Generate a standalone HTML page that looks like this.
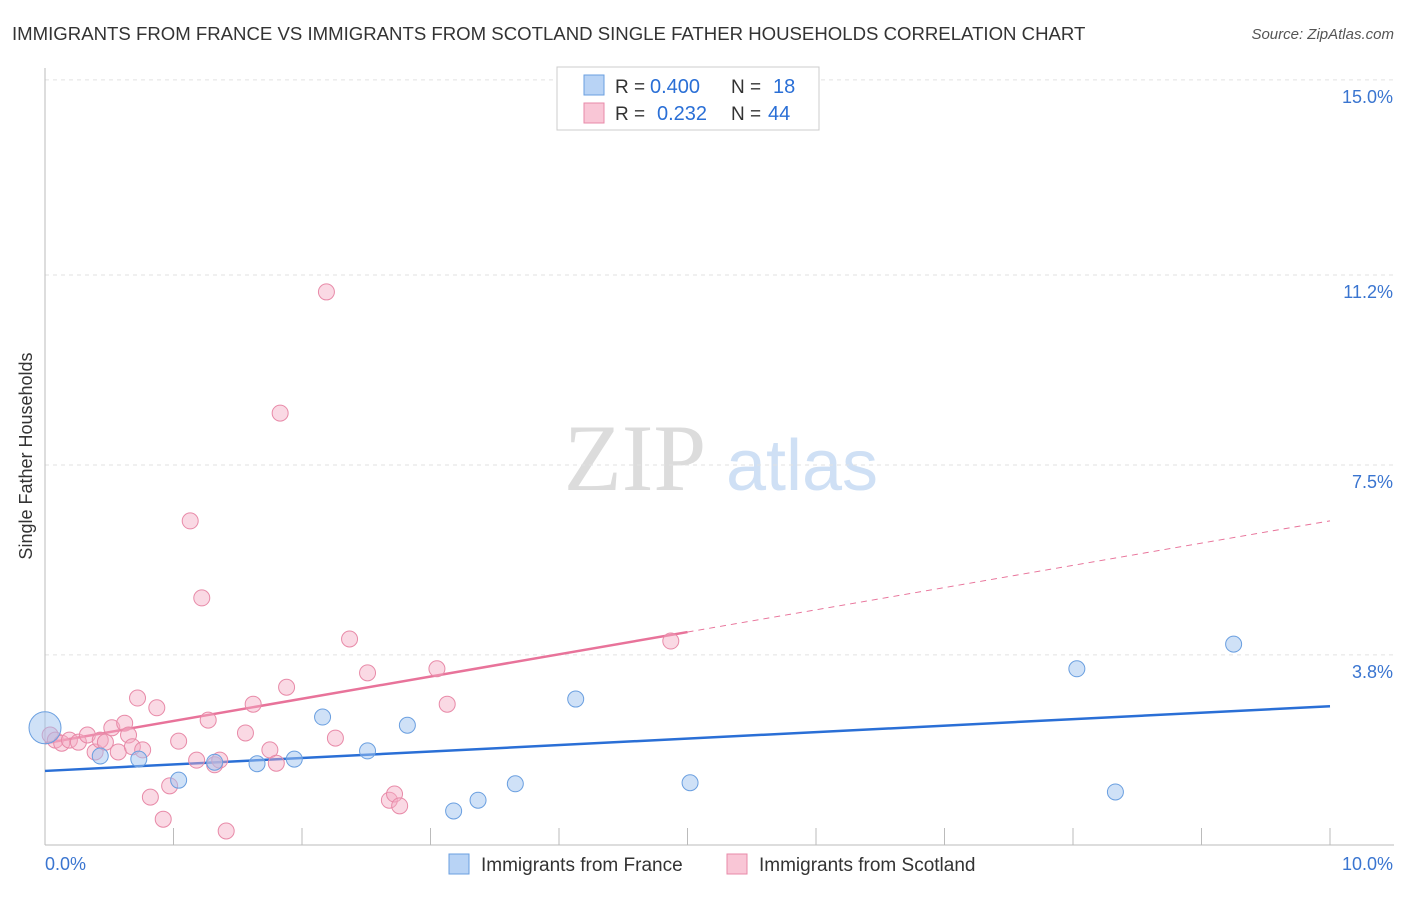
<!DOCTYPE html>
<html><head><meta charset="utf-8"><style>
body{margin:0;background:#fff;font-family:"Liberation Sans",sans-serif;}
svg text{font-family:"Liberation Sans",sans-serif;}
</style></head><body>
<svg id="chart" width="1406" height="892">
<text x="12" y="40" font-size="18.6" fill="#333">IMMIGRANTS FROM FRANCE VS IMMIGRANTS FROM SCOTLAND SINGLE FATHER HOUSEHOLDS CORRELATION CHART</text>
<text x="1394" y="39" font-size="15" fill="#555" font-style="italic" text-anchor="end">Source: ZipAtlas.com</text>
<text x="32" y="456" font-size="18" fill="#333" text-anchor="middle" transform="rotate(-90 32 456)">Single Father Households</text>
<g><text x="635" y="490" font-size="95" fill="#dcdcdc" style="font-family:'Liberation Serif',serif" text-anchor="middle">ZIP</text><text x="802" y="490" font-size="72" fill="#cfe0f5" text-anchor="middle">atlas</text></g>
<g id="grid"></g><g id="lines"></g><g id="pts"></g>
<g>
<rect x="557" y="67" width="262" height="63" fill="#fff" stroke="#ccc"/>
<rect x="584" y="75" width="20" height="20" fill="#b8d3f5" stroke="#6a9fe0"/>
<text x="615" y="93" font-size="19" fill="#333">R =</text>
<text x="650" y="93" font-size="20" fill="#2a6fd6">0.400</text>
<text x="731" y="93" font-size="19" fill="#333">N =</text>
<text x="773" y="93" font-size="20" fill="#2a6fd6">18</text>
<rect x="584" y="103" width="20" height="20" fill="#f9c6d6" stroke="#e88aa8"/>
<text x="615" y="120" font-size="19" fill="#333">R =</text>
<text x="657" y="120" font-size="20" fill="#2a6fd6">0.232</text>
<text x="731" y="120" font-size="19" fill="#333">N =</text>
<text x="768" y="120" font-size="20" fill="#2a6fd6">44</text>
</g>
<g>
<rect x="449" y="854" width="20" height="20" fill="#b8d3f5" stroke="#6a9fe0"/>
<text x="481" y="871" font-size="19" fill="#333">Immigrants from France</text>
<rect x="727" y="854" width="20" height="20" fill="#f9c6d6" stroke="#e88aa8"/>
<text x="759" y="871" font-size="19" fill="#333">Immigrants from Scotland</text>
</g>
</svg>
<script>
const yTicks=[15.0,11.2,7.5,3.8];
const yTickLabels=["15.0%","11.2%","7.5%","3.8%"];
const xTicks=[0,1,2,3,4,5,6,7,8,9,10];
const franceX=[0,0.43,0.73,1.04,1.32,1.65,1.94,2.16,2.51,2.82,3.18,3.37,3.66,4.13,5.02,8.03,8.33,9.25];
const franceY=[2.38,1.83,1.77,1.36,1.71,1.68,1.77,2.59,1.93,2.43,0.76,0.97,1.29,2.94,1.31,3.53,1.13,4.01];
const scotX=[0.04,0.08,0.13,0.19,0.26,0.33,0.39,0.43,0.47,0.52,0.57,0.62,0.65,0.68,0.72,0.76,0.82,0.87,0.92,0.97,1.04,1.13,1.18,1.22,1.27,1.32,1.36,1.41,1.56,1.62,1.75,1.80,1.83,1.88,2.19,2.26,2.37,2.51,2.68,2.72,2.76,3.05,3.13,4.87];
const scotY=[2.24,2.14,2.08,2.14,2.10,2.24,1.91,2.14,2.10,2.38,1.91,2.47,2.24,2.01,2.96,1.95,1.03,2.77,0.60,1.25,2.12,6.41,1.75,4.91,2.53,1.66,1.75,0.37,2.28,2.84,1.95,1.69,8.51,3.17,10.87,2.18,4.11,3.45,0.97,1.09,0.86,3.53,2.84,4.07];
const franceLine=[1.54,2.80];
const scotLine=[2.08,6.41];
const scotSolidEnd=5.0;
const NS="http://www.w3.org/2000/svg";
const sx=v=>45+v*128.5, sy=v=>850-v*51.34;
function mk(tag,attrs,parent){const e=document.createElementNS(NS,tag);for(const k in attrs)e.setAttribute(k,attrs[k]);document.getElementById(parent).appendChild(e);return e;}
yTicks.forEach((t,i)=>{
 let l=mk('line',{x1:45,x2:1394,y1:sy(t),y2:sy(t),stroke:'#e2e2e2','stroke-dasharray':'4,4'},'grid');
 
 
 let tx=mk('text',{x:1393,y:sy(t)+23,'font-size':18,fill:'#3a75d0','text-anchor':'end'},'grid');tx.textContent=yTickLabels[i];
 
 
});
let ax=mk('line',{x1:45,x2:45,y1:68,y2:845,stroke:'#bbb'},'grid');


let bx=mk('line',{x1:45,x2:1394,y1:845,y2:845,stroke:'#bbb'},'grid');


xTicks.forEach(t=>{let l=mk('line',{x1:sx(t),x2:sx(t),y1:828,y2:845,stroke:'#bbb'},'grid');
 
 });
let x0=mk('text',{x:45,y:870,'font-size':18,fill:'#3a75d0'},'grid');x0.textContent='0.0%';


let x1=mk('text',{x:1393,y:870,'font-size':18,fill:'#3a75d0','text-anchor':'end'},'grid');x1.textContent='10.0%';


scotX.forEach((x,i)=>{let c=mk('circle',{cx:sx(x),cy:sy(scotY[i]),r:8,fill:'rgba(245,170,195,0.45)',stroke:'#e88aa8','stroke-width':1},'pts');
 
 });
franceX.forEach((x,i)=>{let c=mk('circle',{cx:sx(x),cy:sy(franceY[i]),r:i==0?16:8,fill:'rgba(160,195,240,0.5)',stroke:'#6a9fe0','stroke-width':1},'pts');
 
 });
let fl=mk('line',{x1:sx(0),y1:sy(franceLine[0]),x2:sx(10),y2:sy(franceLine[1]),stroke:'#2a6fd6','stroke-width':2.5},'lines');


const ym=scotLine[0]+(scotLine[1]-scotLine[0])*scotSolidEnd/10;
let sl=mk('line',{x1:sx(0),y1:sy(scotLine[0]),x2:sx(scotSolidEnd),y2:sy(ym),stroke:'#e8739a','stroke-width':2.5},'lines');


let sd=mk('line',{x1:sx(scotSolidEnd),y1:sy(ym),x2:sx(10),y2:sy(scotLine[1]),stroke:'#e8739a','stroke-width':1,'stroke-dasharray':'6,5'},'lines');


</script>
</body></html>
